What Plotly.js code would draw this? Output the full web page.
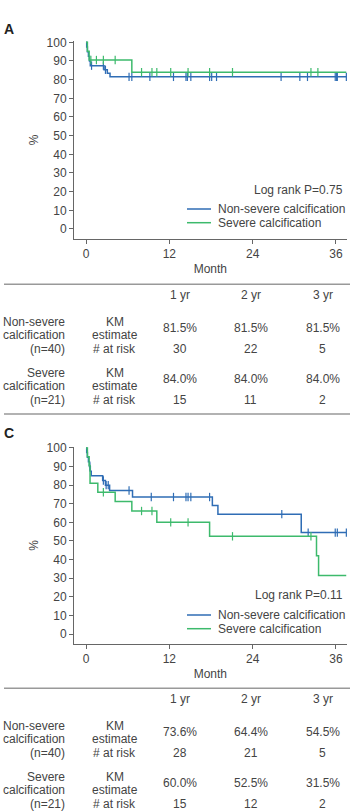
<!DOCTYPE html>
<html><head><meta charset="utf-8">
<script src="https://cdn.plot.ly/plotly-3.0.1.min.js"></script>
<style>html,body{margin:0;padding:0;background:#fff}#chart{width:353px;height:811px}</style>
</head><body><div id="chart"></div>
<script>
// ---------------- DATA ----------------
const monthTicks = [0, 12, 24, 36];
const pctTicks = [0, 10, 20, 30, 40, 50, 60, 70, 80, 90, 100];
const followEnd = 37.5;
const seriesNames = ['Non-severe calcification', 'Severe calcification'];

// Panel A - Kaplan-Meier steps (month, %)
const timesA_non = [0, 0.1, 0.2, 0.35, 0.5, 0.62, 2.6, 3.07, 3.46];
const survA_non  = [100, 97.5, 95, 92.5, 90, 87.5, 85.3, 83.4, 81.5];
const censA_non  = [0.8, 2.5, 2.8, 6.2, 6.6, 9.2, 12.6, 14.4, 14.6, 15.1, 17.8, 18.1, 18.8, 28.1, 30.8, 31.9, 35.9, 36.1, 36.2, 37.5];
const timesA_sev = [0, 0.2, 0.45, 6.6];
const survA_sev  = [100, 95.2, 90.5, 84.0];
const censA_sev  = [0.7, 1.5, 2.5, 4.2, 8.0, 9.5, 10.2, 12.2, 14.7, 17.8, 21.1, 32.4, 33.4];
const logrankA = 'Log rank P=0.75';

// Panel C
const timesC_non = [0, 0.1, 0.2, 0.35, 0.5, 0.62, 0.75, 2.4, 2.8, 3.4, 6.7, 18.2, 19.0, 31.0];
const survC_non  = [100, 97.5, 95, 92.5, 90, 87.5, 85.0, 82.5, 80.0, 77.1, 73.6, 69.0, 64.4, 54.5];
const censC_non  = [0.55, 2.5, 2.9, 3.2, 6.2, 9.4, 12.6, 14.4, 14.7, 15.1, 17.8, 28.2, 32.0, 35.9, 36.2, 37.5];
const timesC_sev = [0, 0.2, 0.45, 0.58, 1.7, 4.2, 6.6, 10.2, 17.8, 33.2, 33.5];
const survC_sev  = [100, 95.2, 90.5, 81.0, 76.2, 71.2, 66.1, 60.0, 52.5, 42.0, 31.5];
const censC_sev  = [2.5, 8.0, 9.5, 12.2, 14.7, 21.1, 32.4];
const logrankC = 'Log rank P=0.11';

// Tables
const yearLabels = ['1 yr', '2 yr', '3 yr'];
const groupLabelsNon = ['Non-severe', 'calcification', '(n=40)'];
const groupLabelsSev = ['Severe', 'calcification', '(n=21)'];
const rowLabels = ['KM', 'estimate', '# at risk'];
const kmA_non = ['81.5%', '81.5%', '81.5%'];
const riskA_non = [30, 22, 5];
const kmA_sev = ['84.0%', '84.0%', '84.0%'];
const riskA_sev = [15, 11, 2];
const kmC_non = ['73.6%', '64.4%', '54.5%'];
const riskC_non = [28, 21, 5];
const kmC_sev = ['60.0%', '52.5%', '31.5%'];
const riskC_sev = [15, 12, 2];

// ---------------- STYLE / LAYOUT ----------------
const W = 353, H = 811;
const X = px => px / W;
const Y = py => 1 - py / H;
const BLUE = '#2f6db5';
const GREEN = '#3dba6c';
const TXT = '#444';
const AXC = '#666';
const FONT = '"Liberation Sans", Arial, Helvetica, sans-serif';

function stepAt(times, surv, t) {
  let v = surv[0];
  for (let i = 0; i < times.length; i++) if (times[i] <= t) v = surv[i];
  return v;
}

const traces = [];
function addKM(times, surv, cens, color, xa, ya, name) {
  traces.push({
    x: times.concat([followEnd]), y: surv.concat([surv[surv.length - 1]]),
    type: 'scatter', mode: 'lines', line: {shape: 'hv', color: color, width: 1.5},
    xaxis: xa, yaxis: ya, name: name, showlegend: false, hoverinfo: 'skip'
  });
  traces.push({
    x: cens, y: cens.map(t => stepAt(times, surv, t)),
    type: 'scatter', mode: 'markers', cliponaxis: false,
    marker: {symbol: 'line-ns', size: 6, color: color, line: {color: color, width: 1.2}},
    xaxis: xa, yaxis: ya, name: name + ' censored', showlegend: false, hoverinfo: 'skip'
  });
}
addKM(timesA_non, survA_non, censA_non, BLUE, 'x', 'y', seriesNames[0]);
addKM(timesA_sev, survA_sev, censA_sev, GREEN, 'x', 'y', seriesNames[1]);
addKM(timesC_non, survC_non, censC_non, BLUE, 'x2', 'y2', seriesNames[0]);
addKM(timesC_sev, survC_sev, censC_sev, GREEN, 'x2', 'y2', seriesNames[1]);

function xAxis(anchor) {
  return {
    domain: [X(74), X(346.7)], range: [-1.73, 37.55], anchor: anchor,
    tickvals: monthTicks, ticks: 'outside', ticklen: 4, tickcolor: AXC, tickwidth: 1,
    showline: true, linecolor: AXC, linewidth: 1, showgrid: false, zeroline: false,
    tickfont: {family: FONT, size: 12, color: TXT},
    title: {text: 'Month', font: {family: FONT, size: 12, color: TXT}, standoff: 4},
    fixedrange: true
  };
}
function yAxis(domain, anchor) {
  return {
    domain: domain, range: [-5.36, 100.7], anchor: anchor,
    tickvals: pctTicks, ticks: 'outside', ticklen: 4, tickcolor: AXC, tickwidth: 1,
    showline: true, linecolor: AXC, linewidth: 1, showgrid: false, zeroline: false,
    tickfont: {family: FONT, size: 12, color: TXT},
    title: {text: '%', font: {family: FONT, size: 12, color: TXT}, standoff: 5},
    fixedrange: true
  };
}

const annotations = [];
const shapes = [];
function txt(text, xpx, ypx, align, opts) {
  annotations.push(Object.assign({
    text: String(text), xref: 'paper', yref: 'paper', x: X(xpx), y: Y(ypx),
    xanchor: align || 'center', yanchor: 'middle', showarrow: false, borderpad: 0,
    font: {family: FONT, size: 12, color: TXT}
  }, opts || {}));
}
function hline(x0, x1, ypx, color, width) {
  shapes.push({type: 'line', xref: 'paper', yref: 'paper', x0: X(x0), x1: X(x1), y0: Y(ypx), y1: Y(ypx),
    line: {color: color, width: width}});
}

function panel(letter, letterY, logrank, lrY, legY, tableTop, kmNon, riskNon, kmSev, riskSev) {
  txt(letter, 8.5, letterY, 'center', {font: {family: FONT, size: 14, color: '#222', weight: 'bold'}});
  txt(logrank, 343.5, lrY, 'right');
  [BLUE, GREEN].forEach((c, i) => {
    const yy = legY + i * 13.7;
    hline(187, 211, yy, c, 1.5);
    txt(seriesNames[i], 217, yy, 'left');
  });
  // table
  hline(4, 350, tableTop, '#999', 1.5);
  const colX = [180, 250.7, 322.7];
  yearLabels.forEach((l, i) => txt(l, colX[i], tableTop + 10.5));
  const rowsOff = [37.5, 50.2, 64.5];
  const sevOff = 51;
  groupLabelsNon.forEach((l, i) => txt(l, 66, tableTop + rowsOff[i], 'right'));
  groupLabelsSev.forEach((l, i) => txt(l, 66, tableTop + sevOff + rowsOff[i], 'right'));
  rowLabels.forEach((l, i) => {
    txt(l, 114.5, tableTop + rowsOff[i]);
    txt(l, 114.5, tableTop + sevOff + rowsOff[i]);
  });
  colX.forEach((cx, i) => {
    txt(kmNon[i], cx, tableTop + 43.5);
    txt(riskNon[i], cx, tableTop + rowsOff[2]);
    txt(kmSev[i], cx, tableTop + sevOff + 43.5);
    txt(riskSev[i], cx, tableTop + sevOff + rowsOff[2]);
  });
}
panel('A', 29, logrankA, 189.5, 209, 284.3, kmA_non, riskA_non, kmA_sev, riskA_sev);
hline(4, 350, 414, '#999', 1.5);
panel('C', 433, logrankC, 594.5, 615, 688.3, kmC_non, riskC_non, kmC_sev, riskC_sev);

const layout = {
  width: W, height: H, margin: {l: 0, r: 0, t: 0, b: 0},
  paper_bgcolor: '#fff', plot_bgcolor: '#fff', showlegend: false,
  font: {family: FONT, size: 12, color: TXT},
  xaxis: xAxis('y'),
  yaxis: yAxis([Y(239), Y(41)], 'x'),
  xaxis2: xAxis('y2'),
  yaxis2: yAxis([Y(644), Y(446.6)], 'x2'),
  annotations: annotations, shapes: shapes
};
Plotly.newPlot('chart', traces, layout, {staticPlot: true, displayModeBar: false});
</script>
</body></html>
